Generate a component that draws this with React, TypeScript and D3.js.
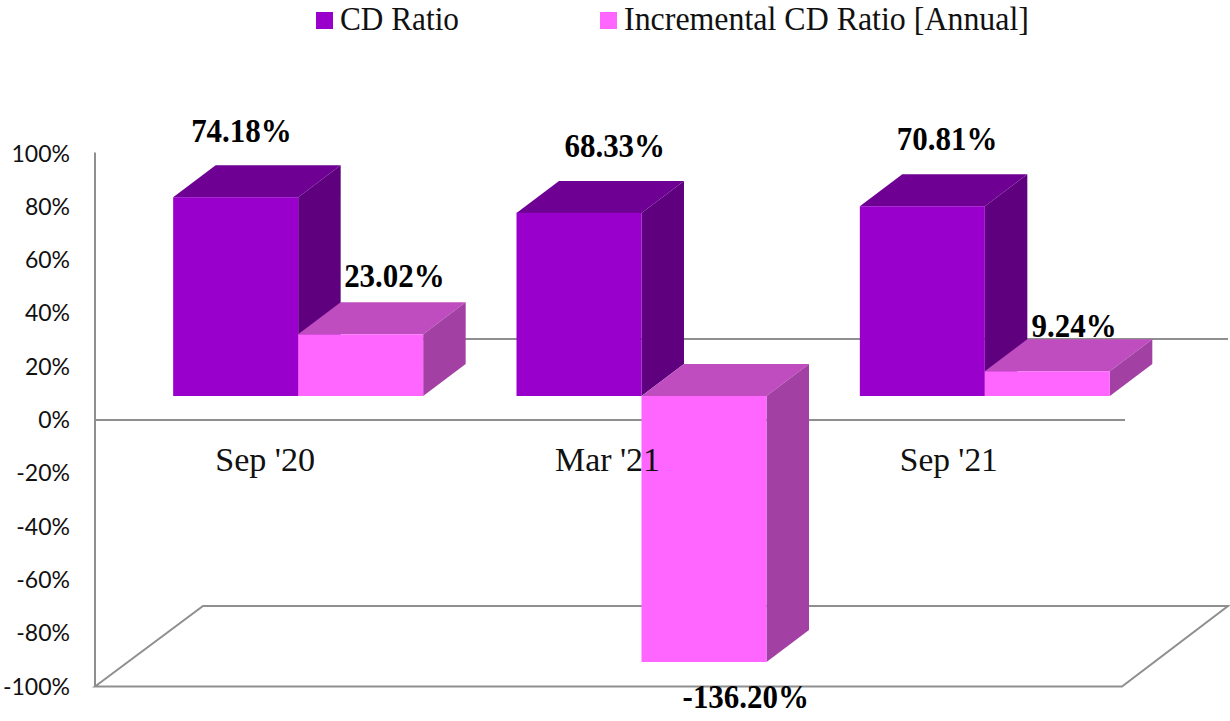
import React from 'react';
import * as d3 from 'd3';

const categories = ["Sep '20", "Mar '21", "Sep '21"];
const seriesNames = ['CD Ratio', 'Incremental CD Ratio [Annual]'];
const cdRatio = [74.18, 68.33, 70.81];
const incrementalCdRatio = [23.02, -136.2, 9.24];
const yTicks = [100, 80, 60, 40, 20, 0, -20, -40, -60, -80, -100];

const W = 1230, H = 721;
const SERIF = "'Liberation Serif', serif";
const SANS = "Lato, 'Noto Sans', sans-serif";
const GRID = '#8f8f8f';
const palettes = [
  { front: '#9900cc', top: '#6f0094', side: '#5f007f' },
  { front: '#ff66ff', top: '#bf4dbf', side: '#a340a3' },
];

// Axis scale (the wall), and bar scale (the bars stand further forward in the 3D box).
const yAxis = d3.scaleLinear().domain([-100, 100]).range([686.5, 153.5]);
const yBar = d3.scaleLinear().domain([-100, 0, 100]).range([662, 396, 128]).clamp(true);
const xBand = d3.scaleBand<string>().domain(categories).range([126.5, 1156.5]);
const BAR_W = 125;
const DEPTH_X = 42.5, DEPTH_Y = 32;

const poly = (pts: [number, number][]) => d3.line()(pts) + 'Z';

// Approximate em width of the numeric labels, used to condense them to the reference's proportions.
const emWidth = (s: string) =>
  Array.from(s).reduce((a, ch) => a + (ch === '.' ? 0.25 : ch === '%' ? 1 : ch === '-' ? 0.333 : 0.5), 0);

function Bar({ x, v, pal }: { x: number; v: number; pal: typeof palettes[0] }) {
  const y0 = yBar(0), y1 = yBar(v);
  const top = Math.min(y0, y1), bot = Math.max(y0, y1);
  const r = x + BAR_W;
  return (
    <g>
      <path d={poly([[x, top], [x + DEPTH_X, top - DEPTH_Y], [r + DEPTH_X, top - DEPTH_Y], [r, top]])} fill={pal.top} />
      <path d={poly([[r, top], [r + DEPTH_X, top - DEPTH_Y], [r + DEPTH_X, bot - DEPTH_Y], [r, bot]])} fill={pal.side} />
      <rect x={x} y={top} width={BAR_W} height={bot - top} fill={pal.front} />
    </g>
  );
}

const labelNudge: [number, number][][] = [
  [[-15.5, -23], [12.5, -15]],
  [[14.5, -24], [20.5, 46]],
  [[3.5, -24], [5.5, -2]],
];
const categoryNudge = [0, -1, -3];
const categoryWidth = [100, 105, 98];

export default function App() {
  const groups = categories.map((c, i) => {
    const bx = (xBand(c) as number) + (xBand.bandwidth() - 2 * BAR_W) / 2;
    return { c, i, bx };
  });
  return (
    <svg width={W} height={H} viewBox={`0 0 ${W} ${H}`} style={{ position: 'absolute', left: 0, top: 0, background: '#fff' }}>
      {/* legend */}
      {seriesNames.map((s, i) => {
        const lx = [316, 600][i];
        return (
          <g key={s}>
            <rect x={lx} y={12} width={17} height={17} fill={palettes[i].front} />
            <text x={lx + 24} y={30} fontFamily={SERIF} fontSize={33} fill="#111" textLength={[119, 405][i]} lengthAdjust="spacingAndGlyphs">{s}</text>
          </g>
        );
      })}

      {/* walls and floors */}
      <g fill="none" stroke={GRID} strokeWidth={2}>
        <line x1={95} x2={95} y1={yAxis(100) - 1} y2={yAxis(-100)} />
        <line x1={95} x2={1125} y1={yAxis(0)} y2={yAxis(0)} />
        <line x1={300} x2={1228} y1={339} y2={339} />
        <path d={poly([[95, yAxis(-100)], [203, 606], [1228, 606], [1122, yAxis(-100)]])} />
      </g>

      {/* y ticks */}
      {yTicks.map(t => (
        <text key={t} x={70} y={yAxis(t) + 8} textAnchor="end" fontFamily={SANS} fontSize={23} fill="#111">{t}%</text>
      ))}

      {/* bars */}
      {groups.map(({ c, i, bx }) => (
        <g key={c}>
          <Bar x={bx} v={cdRatio[i]} pal={palettes[0]} />
          <Bar x={bx + BAR_W} v={incrementalCdRatio[i]} pal={palettes[1]} />
        </g>
      ))}

      {/* category labels */}
      {groups.map(({ c, i, bx }) => (
        <text key={c} x={bx + 92 + categoryNudge[i] - categoryWidth[i] / 2} y={471} fontFamily={SERIF} fontSize={33} fill="#111" textLength={categoryWidth[i]} lengthAdjust="spacingAndGlyphs">{c}</text>
      ))}

      {/* data labels */}
      {groups.map(({ c, i, bx }) =>
        [cdRatio[i], incrementalCdRatio[i]].map((v, j) => {
          const cx = bx + BAR_W * j + BAR_W / 2 + DEPTH_X / 2 + labelNudge[i][j][0];
          const y = (v >= 0 ? yBar(v) - DEPTH_Y : yBar(v)) + labelNudge[i][j][1];
          const txt = `${v.toFixed(2)}%`;
          const w = emWidth(txt) * 34 * 0.91;
          return (
            <text key={c + j} x={cx - w / 2} y={y} fontFamily={SERIF} fontWeight={700} fontSize={34} fill="#000" textLength={w} lengthAdjust="spacingAndGlyphs">{txt}</text>
          );
        })
      )}
    </svg>
  );
}
